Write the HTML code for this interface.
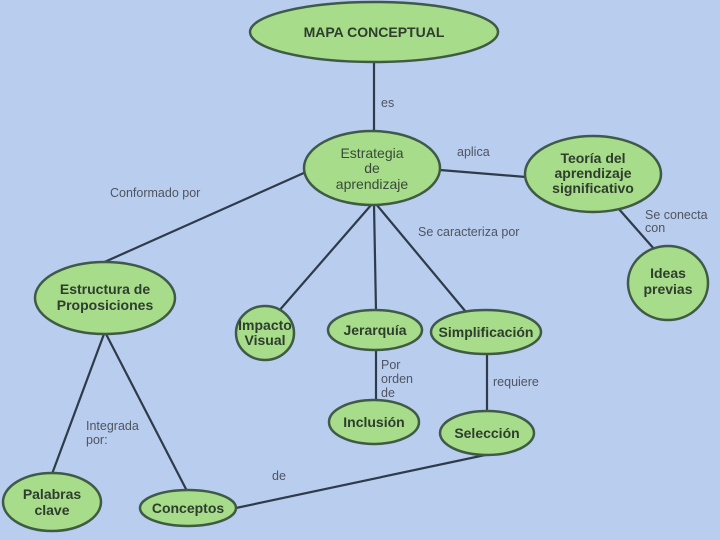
<!DOCTYPE html>
<html><head><meta charset="utf-8"><style>
html,body{margin:0;padding:0;background:#b9cdee;}
svg{display:block}
.n{fill:#a6dc8a;stroke:#3f5a46;stroke-width:2.5}
.l{stroke:#2d3b4a;stroke-width:2.2}
.t{font-family:"Liberation Sans",sans-serif;font-size:14px;font-weight:bold;fill:#2f3d2f;text-anchor:middle}
.tn{font-family:"Liberation Sans",sans-serif;font-size:14px;fill:#3a4a3a;text-anchor:middle}
.e{font-family:"Liberation Sans",sans-serif;font-size:12.5px;fill:#4f5560}
</style></head><body>
<svg width="720" height="540" viewBox="0 0 720 540">
<g class="l">
<line x1="374" y1="60" x2="374" y2="134"/>
<line x1="306" y1="172" x2="100" y2="264"/>
<line x1="440" y1="170" x2="526" y2="177"/>
<line x1="618" y1="208" x2="655" y2="250"/>
<line x1="372" y1="204" x2="278" y2="312"/>
<line x1="374" y1="204" x2="376" y2="311"/>
<line x1="376" y1="204" x2="466" y2="312"/>
<line x1="376" y1="349" x2="376" y2="401"/>
<line x1="487" y1="354" x2="487" y2="412"/>
<line x1="104" y1="334" x2="52" y2="474"/>
<line x1="106" y1="334" x2="187" y2="491"/>
<line x1="236" y1="508" x2="490" y2="454"/>
</g>
<ellipse class="n" cx="374" cy="32" rx="124" ry="30"/>
<ellipse class="n" cx="372" cy="168" rx="68" ry="37"/>
<ellipse class="n" cx="593" cy="174" rx="68" ry="38"/>
<ellipse class="n" cx="668" cy="283" rx="40" ry="37"/>
<ellipse class="n" cx="105" cy="298" rx="70" ry="36"/>
<ellipse class="n" cx="265" cy="333" rx="29" ry="27"/>
<ellipse class="n" cx="375" cy="330" rx="47" ry="20"/>
<ellipse class="n" cx="486" cy="332" rx="55" ry="22"/>
<ellipse class="n" cx="374" cy="422" rx="45" ry="22"/>
<ellipse class="n" cx="487" cy="433" rx="47" ry="22"/>
<ellipse class="n" cx="52" cy="502" rx="49" ry="29"/>
<ellipse class="n" cx="188" cy="508" rx="48" ry="18"/>
<text class="t" x="374" y="37">MAPA CONCEPTUAL</text>
<text class="tn" x="372" y="158">Estrategia</text>
<text class="tn" x="372" y="173">de</text>
<text class="tn" x="372" y="189">aprendizaje</text>
<text class="t" x="593" y="163">Teoría del</text>
<text class="t" x="593" y="178">aprendizaje</text>
<text class="t" x="593" y="193">significativo</text>
<text class="t" x="668" y="278">Ideas</text>
<text class="t" x="668" y="294">previas</text>
<text class="t" x="105" y="294">Estructura de</text>
<text class="t" x="105" y="310">Proposiciones</text>
<text class="t" x="265" y="330">Impacto</text>
<text class="t" x="265" y="345">Visual</text>
<text class="t" x="375" y="335">Jerarquía</text>
<text class="t" x="486" y="337">Simplificación</text>
<text class="t" x="374" y="427">Inclusión</text>
<text class="t" x="487" y="438">Selección</text>
<text class="t" x="52" y="499">Palabras</text>
<text class="t" x="52" y="515">clave</text>
<text class="t" x="188" y="513">Conceptos</text>
<text class="e" x="381" y="107">es</text>
<text class="e" x="457" y="156">aplica</text>
<text class="e" x="110" y="197">Conformado por</text>
<text class="e" x="418" y="236">Se caracteriza por</text>
<text class="e" x="645" y="219">Se conecta</text>
<text class="e" x="645" y="232">con</text>
<text class="e" x="381" y="369">Por</text>
<text class="e" x="381" y="383">orden</text>
<text class="e" x="381" y="397">de</text>
<text class="e" x="493" y="386">requiere</text>
<text class="e" x="86" y="430">Integrada</text>
<text class="e" x="86" y="444">por:</text>
<text class="e" x="272" y="480">de</text>
</svg>
</body></html>
